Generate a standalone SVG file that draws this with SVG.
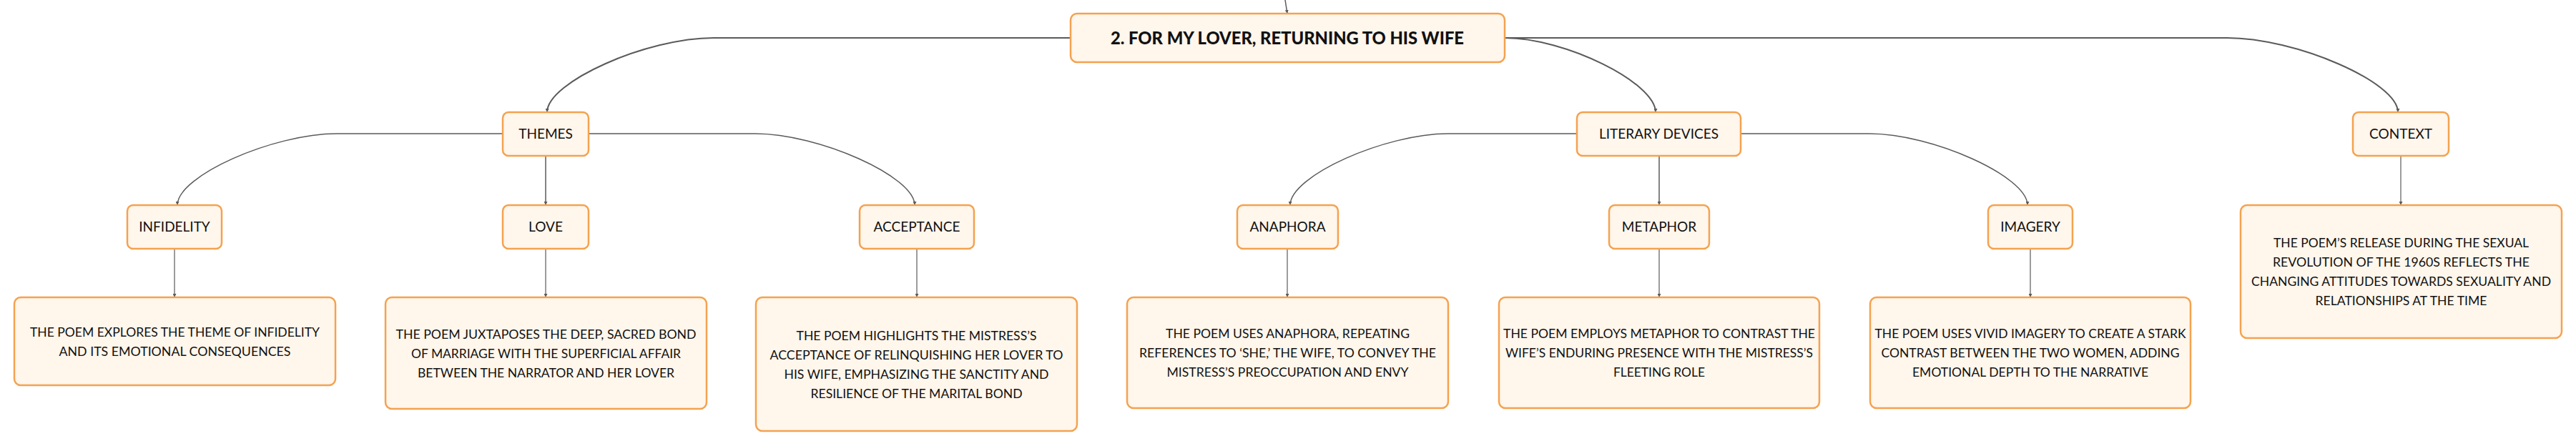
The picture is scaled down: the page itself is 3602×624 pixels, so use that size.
<svg xmlns="http://www.w3.org/2000/svg" width="3602" height="624" viewBox="0 0 3602 624">
<style>
.box{fill:#FFF6EC;stroke:#F4A24F;stroke-width:2.5}
.title{font-family:Lato,"Liberation Sans",sans-serif;font-weight:900;font-size:25px;fill:#111;text-anchor:middle}
.lbl{font-family:Lato,"Liberation Sans",sans-serif;font-size:19px;fill:#111;text-anchor:middle}
.desc{font-family:Lato,"Liberation Sans",sans-serif;font-size:18px;fill:#111;text-anchor:middle}
.c1{fill:none;stroke:#5a5a5a;stroke-width:2}
.c2{fill:none;stroke:#5a5a5a;stroke-width:1.5}
.c3{fill:none;stroke:#5a5a5a;stroke-width:1.2}
</style>
<defs>
<marker id="ah" viewBox="0 0 6 6" refX="6" refY="3" markerWidth="5" markerHeight="5" markerUnits="userSpaceOnUse" orient="auto">
<path d="M0,0 L6,3 L0,6 z" fill="#5a5a5a"/>
</marker>
</defs>
<rect width="3602" height="624" fill="#ffffff"/>
<g id="connectors">
<path class="c2" d="M1797,0 L1800,19" marker-end="url(#ah)"/>
<path class="c1" d="M1497,53 H998 C904,53 765,115 765,157" marker-end="url(#ah)"/>
<path class="c1" d="M2104,53 C2189,53 2315,116 2315,157" marker-end="url(#ah)"/>
<path class="c1" d="M2104,53 H3114 C3210,53 3353,115 3353,157" marker-end="url(#ah)"/>
<path class="c2" d="M703,187 H471 C382,187 248,246 248,287" marker-end="url(#ah)"/>
<path class="c2" d="M763,218 V287" marker-end="url(#ah)"/>
<path class="c2" d="M823,187 H1056 C1145,187 1279,247 1279,287" marker-end="url(#ah)"/>
<path class="c2" d="M2204,187 H2025 C1937,187 1804,246 1804,287" marker-end="url(#ah)"/>
<path class="c2" d="M2320,218 V287" marker-end="url(#ah)"/>
<path class="c2" d="M2434,187 H2614 C2702,187 2835,247 2835,287" marker-end="url(#ah)"/>
<path class="c3" d="M3357,218 V287" marker-end="url(#ah)"/>
<path class="c3" d="M244,348 V416" marker-end="url(#ah)"/>
<path class="c3" d="M763,348 V416" marker-end="url(#ah)"/>
<path class="c3" d="M1282,348 V416" marker-end="url(#ah)"/>
<path class="c3" d="M1800,348 V416" marker-end="url(#ah)"/>
<path class="c3" d="M2320,348 V416" marker-end="url(#ah)"/>
<path class="c3" d="M2839,348 V416" marker-end="url(#ah)"/>
</g>
<g id="root">
<rect class="box" x="1497" y="19" width="607" height="68" rx="9"/>
<text class="title" x="1800" y="62" textLength="494" lengthAdjust="spacingAndGlyphs">2. FOR MY LOVER, RETURNING TO HIS WIFE</text>
</g>
<g id="themes">
<rect class="box" x="703" y="157" width="120" height="61" rx="8"/>
<text class="lbl" x="763" y="194">THEMES</text>
</g>
<g id="literary-devices">
<rect class="box" x="2205" y="157" width="229" height="61" rx="8"/>
<text class="lbl" x="2319.5" y="194">LITERARY DEVICES</text>
</g>
<g id="context">
<rect class="box" x="3290" y="157" width="134" height="61" rx="8"/>
<text class="lbl" x="3357" y="194">CONTEXT</text>
</g>
<g id="infidelity">
<rect class="box" x="178" y="287" width="132" height="61" rx="8"/>
<text class="lbl" x="244" y="324">INFIDELITY</text>
</g>
<g id="love">
<rect class="box" x="703" y="287" width="120" height="61" rx="8"/>
<text class="lbl" x="763" y="324">LOVE</text>
</g>
<g id="acceptance">
<rect class="box" x="1202" y="287" width="160" height="61" rx="8"/>
<text class="lbl" x="1282" y="324">ACCEPTANCE</text>
</g>
<g id="anaphora">
<rect class="box" x="1730" y="287" width="141" height="61" rx="8"/>
<text class="lbl" x="1800.5" y="324">ANAPHORA</text>
</g>
<g id="metaphor">
<rect class="box" x="2250" y="287" width="140" height="61" rx="8"/>
<text class="lbl" x="2320" y="324">METAPHOR</text>
</g>
<g id="imagery">
<rect class="box" x="2780" y="287" width="118" height="61" rx="8"/>
<text class="lbl" x="2839" y="324">IMAGERY</text>
</g>
<g id="infidelity-desc">
<rect class="box" x="20" y="416" width="449" height="123" rx="9"/>
<text class="desc" x="244.5" y="470.5" textLength="405" lengthAdjust="spacingAndGlyphs">THE POEM EXPLORES THE THEME OF INFIDELITY</text>
<text class="desc" x="244.5" y="497.5" textLength="324" lengthAdjust="spacingAndGlyphs">AND ITS EMOTIONAL CONSEQUENCES</text>
</g>
<g id="love-desc">
<rect class="box" x="539" y="416" width="449" height="156" rx="9"/>
<text class="desc" x="763.5" y="473.5" textLength="420" lengthAdjust="spacingAndGlyphs">THE POEM JUXTAPOSES THE DEEP, SACRED BOND</text>
<text class="desc" x="763.5" y="500.5" textLength="377" lengthAdjust="spacingAndGlyphs">OF MARRIAGE WITH THE SUPERFICIAL AFFAIR</text>
<text class="desc" x="763.5" y="527.5" textLength="359" lengthAdjust="spacingAndGlyphs">BETWEEN THE NARRATOR AND HER LOVER</text>
</g>
<g id="acceptance-desc">
<rect class="box" x="1057" y="416" width="449" height="187" rx="9"/>
<text class="desc" x="1281.5" y="475.5" textLength="336" lengthAdjust="spacingAndGlyphs">THE POEM HIGHLIGHTS THE MISTRESS’S</text>
<text class="desc" x="1281.5" y="502.5" textLength="410" lengthAdjust="spacingAndGlyphs">ACCEPTANCE OF RELINQUISHING HER LOVER TO</text>
<text class="desc" x="1281.5" y="529.5" textLength="370" lengthAdjust="spacingAndGlyphs">HIS WIFE, EMPHASIZING THE SANCTITY AND</text>
<text class="desc" x="1281.5" y="556.5" textLength="296" lengthAdjust="spacingAndGlyphs">RESILIENCE OF THE MARITAL BOND</text>
</g>
<g id="anaphora-desc">
<rect class="box" x="1576" y="416" width="449" height="155" rx="9"/>
<text class="desc" x="1800.5" y="473" textLength="341" lengthAdjust="spacingAndGlyphs">THE POEM USES ANAPHORA, REPEATING</text>
<text class="desc" x="1800.5" y="500" textLength="415" lengthAdjust="spacingAndGlyphs">REFERENCES TO ‘SHE,’ THE WIFE, TO CONVEY THE</text>
<text class="desc" x="1800.5" y="527" textLength="338" lengthAdjust="spacingAndGlyphs">MISTRESS’S PREOCCUPATION AND ENVY</text>
</g>
<g id="metaphor-desc">
<rect class="box" x="2096" y="416" width="448" height="155" rx="9"/>
<text class="desc" x="2320" y="473" textLength="436" lengthAdjust="spacingAndGlyphs">THE POEM EMPLOYS METAPHOR TO CONTRAST THE</text>
<text class="desc" x="2320" y="500" textLength="430" lengthAdjust="spacingAndGlyphs">WIFE’S ENDURING PRESENCE WITH THE MISTRESS’S</text>
<text class="desc" x="2320" y="527" textLength="128" lengthAdjust="spacingAndGlyphs">FLEETING ROLE</text>
</g>
<g id="imagery-desc">
<rect class="box" x="2615" y="416" width="448" height="155" rx="9"/>
<text class="desc" x="2839" y="473" textLength="435" lengthAdjust="spacingAndGlyphs">THE POEM USES VIVID IMAGERY TO CREATE A STARK</text>
<text class="desc" x="2839" y="500" textLength="417" lengthAdjust="spacingAndGlyphs">CONTRAST BETWEEN THE TWO WOMEN, ADDING</text>
<text class="desc" x="2839" y="527" textLength="330" lengthAdjust="spacingAndGlyphs">EMOTIONAL DEPTH TO THE NARRATIVE</text>
</g>
<g id="context-desc">
<rect class="box" x="3133" y="287" width="449" height="186" rx="9"/>
<text class="desc" x="3357.5" y="346" textLength="357" lengthAdjust="spacingAndGlyphs">THE POEM’S RELEASE DURING THE SEXUAL</text>
<text class="desc" x="3357.5" y="373" textLength="359" lengthAdjust="spacingAndGlyphs">REVOLUTION OF THE 1960S REFLECTS THE</text>
<text class="desc" x="3357.5" y="400" textLength="419" lengthAdjust="spacingAndGlyphs">CHANGING ATTITUDES TOWARDS SEXUALITY AND</text>
<text class="desc" x="3357.5" y="427" textLength="240" lengthAdjust="spacingAndGlyphs">RELATIONSHIPS AT THE TIME</text>
</g>
</svg>
